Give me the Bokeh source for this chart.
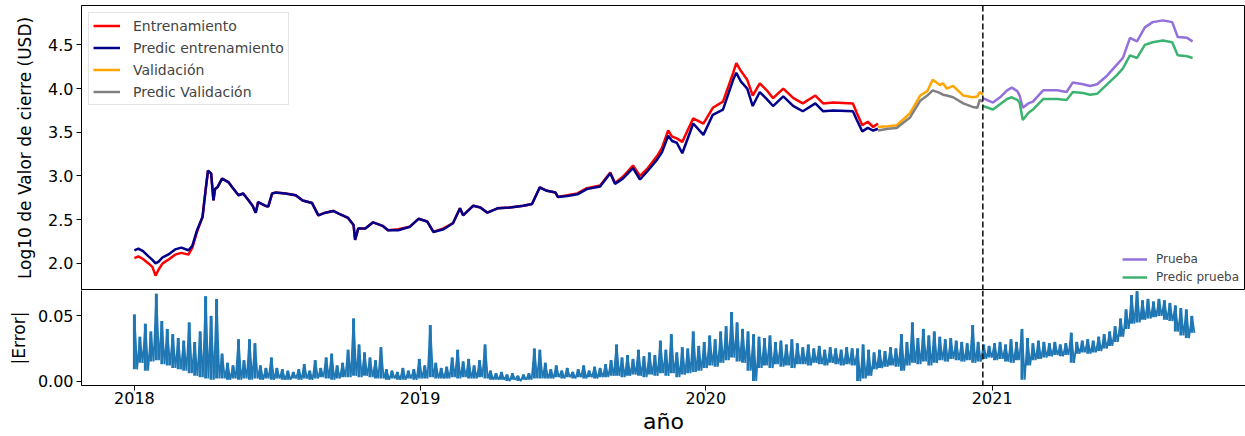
import pandas as pd
from bokeh.plotting import figure
from bokeh.layouts import column
from bokeh.models import (Range1d, FixedTicker, DatetimeTickFormatter, PrintfTickFormatter,
                          Span, Legend, LegendItem)
from bokeh.embed import file_html
from bokeh.resources import INLINE

FONT = "DejaVu Sans"

# ---- training period: actual vs predicted (log10 of close, USD) ----
train_dates = [
    "2018-01-01", "2018-01-06", "2018-01-12", "2018-01-19", "2018-01-24", "2018-01-28",
    "2018-02-01", "2018-02-06", "2018-02-13", "2018-02-22", "2018-03-02", "2018-03-11",
    "2018-03-16", "2018-03-22", "2018-03-29", "2018-04-02", "2018-04-05", "2018-04-09",
    "2018-04-12", "2018-04-14", "2018-04-17", "2018-04-23", "2018-05-01", "2018-05-06",
    "2018-05-14", "2018-05-20", "2018-05-27", "2018-06-01", "2018-06-05", "2018-06-08",
    "2018-06-17", "2018-06-21", "2018-06-26", "2018-06-30", "2018-07-13", "2018-07-26",
    "2018-08-04", "2018-08-16", "2018-08-24", "2018-09-02", "2018-09-12", "2018-09-19",
    "2018-10-01", "2018-10-08", "2018-10-10", "2018-10-14", "2018-10-23", "2018-11-02",
    "2018-11-14", "2018-11-21", "2018-12-04", "2018-12-19", "2018-12-30", "2019-01-10",
    "2019-01-18", "2019-01-31", "2019-02-12", "2019-02-21", "2019-02-25", "2019-03-10",
    "2019-03-19", "2019-03-28", "2019-04-10", "2019-04-26", "2019-05-13", "2019-05-24",
    "2019-06-03", "2019-06-12", "2019-06-23", "2019-06-26", "2019-07-08", "2019-07-21",
    "2019-08-02", "2019-08-19", "2019-09-01", "2019-09-07", "2019-09-17", "2019-09-30",
    "2019-10-09", "2019-10-19", "2019-10-31", "2019-11-06", "2019-11-14", "2019-11-19",
    "2019-11-25", "2019-12-02", "2019-12-16", "2019-12-29", "2020-01-10", "2020-01-23",
    "2020-02-05", "2020-02-09", "2020-02-15", "2020-02-23", "2020-03-01", "2020-03-10",
    "2020-03-19", "2020-03-27", "2020-04-09", "2020-04-22", "2020-05-04", "2020-05-20",
    "2020-05-30", "2020-06-12", "2020-07-07", "2020-07-12", "2020-07-19", "2020-07-26",
    "2020-08-02", "2020-08-08",
]
train_actual = [
    2.06, 2.08, 2.05, 2.00, 1.96, 1.86, 1.93, 2.00, 2.04, 2.10, 2.12, 2.10,
    2.18, 2.36, 2.53, 2.84, 3.06, 3.03, 2.72, 2.85, 2.87, 2.97, 2.93, 2.87,
    2.78, 2.80, 2.72, 2.66, 2.58, 2.70, 2.66, 2.65, 2.80, 2.81, 2.80, 2.78,
    2.72, 2.69, 2.55, 2.58, 2.60, 2.57, 2.52, 2.44, 2.27, 2.40, 2.40, 2.47,
    2.43, 2.38, 2.39, 2.42, 2.51, 2.48, 2.36, 2.40, 2.46, 2.63, 2.55, 2.66,
    2.64, 2.58, 2.63, 2.64, 2.66, 2.68, 2.87, 2.83, 2.81, 2.76, 2.78, 2.80,
    2.86, 2.89, 3.04, 2.92, 2.99, 3.12, 3.00, 3.09, 3.23, 3.32, 3.52, 3.45,
    3.43, 3.39, 3.66, 3.60, 3.78, 3.85, 4.18, 4.29, 4.20, 4.10, 3.92, 4.06,
    3.98, 3.89, 4.00, 3.89, 3.83, 3.92, 3.83, 3.84, 3.83, 3.72, 3.58, 3.62,
    3.56, 3.60,
]
train_pred = [
    2.15, 2.17, 2.14, 2.08, 2.04, 2.00, 2.02, 2.07, 2.10, 2.16, 2.18, 2.15,
    2.20, 2.38, 2.53, 2.84, 3.06, 3.03, 2.72, 2.85, 2.87, 2.97, 2.93, 2.87,
    2.78, 2.80, 2.72, 2.66, 2.58, 2.70, 2.66, 2.65, 2.80, 2.81, 2.80, 2.78,
    2.72, 2.69, 2.55, 2.58, 2.60, 2.57, 2.52, 2.44, 2.27, 2.40, 2.40, 2.47,
    2.43, 2.38, 2.38, 2.42, 2.51, 2.48, 2.36, 2.39, 2.46, 2.63, 2.55, 2.66,
    2.64, 2.58, 2.63, 2.64, 2.66, 2.68, 2.87, 2.83, 2.81, 2.76, 2.77, 2.79,
    2.85, 2.88, 3.03, 2.91, 2.97, 3.09, 2.96, 3.06, 3.19, 3.27, 3.46, 3.40,
    3.38, 3.26, 3.60, 3.47, 3.70, 3.76, 4.10, 4.18, 4.08, 4.00, 3.80, 3.96,
    3.88, 3.80, 3.91, 3.80, 3.74, 3.83, 3.74, 3.75, 3.74, 3.64, 3.51, 3.55,
    3.52, 3.54,
]

# ---- validation period ----
val_dates = [
    "2020-08-08", "2020-08-21", "2020-09-01", "2020-09-11", "2020-09-18", "2020-10-01",
    "2020-10-10", "2020-10-17", "2020-10-26", "2020-10-30", "2020-11-04", "2020-11-12",
    "2020-11-25", "2020-12-07", "2020-12-13", "2020-12-16", "2020-12-20",
]
val_actual = [3.56, 3.57, 3.58, 3.66, 3.72, 3.92, 3.97, 4.10, 4.04, 4.06, 4.00, 4.03,
              3.92, 3.90, 3.91, 3.96, 3.93]
val_pred = [3.52, 3.54, 3.55, 3.62, 3.67, 3.86, 3.92, 3.98, 3.95, 3.93, 3.92, 3.90,
            3.83, 3.79, 3.78, 3.87, 3.85]

# ---- test period ----
test_dates = [
    "2020-12-20", "2021-01-02", "2021-01-11", "2021-01-20", "2021-01-26", "2021-02-02",
    "2021-02-05", "2021-02-09", "2021-02-16", "2021-02-22", "2021-03-07", "2021-03-25",
    "2021-04-06", "2021-04-14", "2021-04-27", "2021-05-06", "2021-05-15", "2021-05-28",
    "2021-06-09", "2021-06-17", "2021-06-26", "2021-07-05", "2021-07-15", "2021-07-25",
    "2021-08-07", "2021-08-19", "2021-08-26", "2021-09-07", "2021-09-14",
]
test_actual = [3.89, 3.84, 3.90, 3.98, 4.01, 3.97, 3.92, 3.78, 3.83, 3.85, 3.98, 3.98,
               3.96, 4.07, 4.05, 4.03, 4.05, 4.15, 4.27, 4.35, 4.58, 4.54, 4.70, 4.76,
               4.78, 4.76, 4.59, 4.58, 4.54]
test_pred = [3.80, 3.76, 3.82, 3.88, 3.90, 3.87, 3.84, 3.64, 3.72, 3.76, 3.88, 3.88,
             3.87, 3.96, 3.95, 3.93, 3.94, 4.05, 4.15, 4.23, 4.38, 4.35, 4.50, 4.53,
             4.55, 4.53, 4.38, 4.37, 4.35]

# ---- absolute error, weekly high / low starting at err_start ----
err_start = "2018-01-01"
err_high = [
    0.051, 0.034, 0.044, 0.038, 0.067, 0.046, 0.040, 0.036, 0.033, 0.031,
    0.045, 0.030, 0.038, 0.065, 0.050, 0.063, 0.021, 0.014, 0.012, 0.032,
    0.016, 0.032, 0.029, 0.012, 0.010, 0.018, 0.010, 0.009, 0.008, 0.007,
    0.009, 0.013, 0.008, 0.016, 0.010, 0.018, 0.021, 0.012, 0.014, 0.024,
    0.048, 0.028, 0.022, 0.018, 0.016, 0.026, 0.009, 0.008, 0.007, 0.010,
    0.008, 0.009, 0.017, 0.012, 0.043, 0.014, 0.010, 0.011, 0.018, 0.024,
    0.015, 0.017, 0.012, 0.016, 0.028, 0.008, 0.006, 0.007, 0.005, 0.006,
    0.004, 0.005, 0.006, 0.025, 0.024, 0.014, 0.009, 0.012, 0.008, 0.010,
    0.007, 0.009, 0.012, 0.008, 0.011, 0.010, 0.013, 0.016, 0.028, 0.018,
    0.020, 0.017, 0.024, 0.019, 0.022, 0.020, 0.031, 0.024, 0.036, 0.022,
    0.026, 0.025, 0.038, 0.027, 0.030, 0.035, 0.032, 0.038, 0.042, 0.053,
    0.045, 0.040, 0.038, 0.036, 0.034, 0.033, 0.035, 0.030, 0.031, 0.028,
    0.032, 0.029, 0.026, 0.028, 0.025, 0.027, 0.024, 0.026, 0.025, 0.024,
    0.026, 0.025, 0.025, 0.028, 0.024, 0.022, 0.024, 0.023, 0.026, 0.025,
    0.036, 0.030, 0.045, 0.033, 0.040, 0.035, 0.038, 0.034, 0.032, 0.033,
    0.031, 0.030, 0.029, 0.043, 0.030, 0.028, 0.027, 0.029, 0.030, 0.028,
    0.032, 0.030, 0.040, 0.033, 0.029, 0.031, 0.030, 0.029, 0.030, 0.028,
    0.029, 0.037, 0.030, 0.031, 0.032, 0.031, 0.034, 0.036, 0.038, 0.042,
    0.048, 0.055, 0.066, 0.069, 0.062, 0.063, 0.061, 0.063, 0.062, 0.060,
    0.058, 0.056, 0.055, 0.050,
]
err_low = [
    0.009, 0.014, 0.008, 0.015, 0.016, 0.013, 0.012, 0.010, 0.009, 0.008,
    0.006, 0.004, 0.003, 0.002, 0.001, 0.002, 0.002, 0.001, 0.002, 0.001,
    0.002, 0.001, 0.002, 0.001, 0.002, 0.001, 0.002, 0.001, 0.001, 0.002,
    0.001, 0.002, 0.001, 0.002, 0.003, 0.002, 0.001, 0.002, 0.003, 0.003,
    0.004, 0.003, 0.004, 0.003, 0.002, 0.002, 0.001, 0.002, 0.001, 0.001,
    0.002, 0.001, 0.002, 0.002, 0.003, 0.002, 0.002, 0.002, 0.003, 0.002,
    0.003, 0.002, 0.002, 0.003, 0.002, 0.001, 0.001, 0.001, 0.000, 0.001,
    0.000, 0.001, 0.001, 0.002, 0.002, 0.002, 0.002, 0.003, 0.002, 0.003,
    0.002, 0.003, 0.002, 0.003, 0.002, 0.003, 0.003, 0.004, 0.004, 0.003,
    0.004, 0.005, 0.004, 0.003, 0.005, 0.004, 0.006, 0.004, 0.006, 0.003,
    0.005, 0.006, 0.007, 0.008, 0.010, 0.012, 0.011, 0.014, 0.016, 0.018,
    0.015, 0.014, 0.008, 0.000, 0.010, 0.012, 0.010, 0.013, 0.011, 0.012,
    0.010, 0.013, 0.013, 0.012, 0.014, 0.013, 0.012, 0.014, 0.013, 0.012,
    0.013, 0.012, 0.000, 0.002, 0.004, 0.009, 0.010, 0.011, 0.012, 0.011,
    0.008, 0.012, 0.014, 0.013, 0.015, 0.012, 0.014, 0.016, 0.015, 0.017,
    0.016, 0.015, 0.016, 0.014, 0.015, 0.017, 0.018, 0.016, 0.017, 0.015,
    0.014, 0.016, 0.001, 0.012, 0.016, 0.017, 0.018, 0.019, 0.020, 0.019,
    0.020, 0.014, 0.021, 0.022, 0.021, 0.022, 0.023, 0.025, 0.027, 0.030,
    0.034, 0.040, 0.044, 0.045, 0.047, 0.048, 0.049, 0.050, 0.047, 0.046,
    0.038, 0.035, 0.033, 0.037,
]

year_ticks = ["2018-01-01", "2019-01-01", "2020-01-01", "2021-01-01"]
price_ticks = [2.0, 2.5, 3.0, 3.5, 4.0, 4.5]
error_ticks = [0.0, 0.05]

ERR_COLOR = "#1f77b4"


def ms(d):
    return pd.Timestamp(d).value / 1e6


def dt(seq):
    return pd.to_datetime(seq)


# x extent: full data span plus 5 % padding on each side
x0, x1 = ms(train_dates[0]), ms(test_dates[-1])
pad = 0.05 * (x1 - x0)
x_range = Range1d(x0 - pad, x1 + pad)

# error trace: one high and one low sample per week
err_week = pd.date_range(err_start, periods=len(err_high), freq="7D")
err_mid = err_week + pd.Timedelta(hours=84)
err_x, err_y = [], []
for d, m, hi, lo in zip(err_week, err_mid, err_high, err_low):
    err_x += [d, m]
    err_y += [hi, lo]

split_date = ms(test_dates[0])


def style(p):
    p.xgrid.visible = False
    p.ygrid.visible = False
    p.outline_line_color = "black"
    p.outline_line_width = 1
    p.background_fill_color = "white"
    p.border_fill_color = "white"
    for ax in p.axis:
        ax.axis_line_color = "black"
        ax.major_tick_line_color = "black"
        ax.major_tick_out = 5
        ax.major_tick_in = 0
        ax.minor_tick_line_color = None
        ax.major_label_text_font = FONT
        ax.major_label_text_font_size = "16px"
        ax.major_label_text_color = "black"
        ax.axis_label_text_font = FONT
        ax.axis_label_text_font_style = "normal"
        ax.axis_label_text_color = "black"
        ax.major_label_standoff = 3


# ---- upper panel: prices ----
p1 = figure(width=1245, height=290, x_range=x_range, y_range=Range1d(1.69, 4.95),
            x_axis_type="datetime", x_axis_location=None,
            output_backend="svg", toolbar_location=None,
            min_border_left=81, min_border_right=0, min_border_top=5, min_border_bottom=0)
style(p1)
p1.yaxis.ticker = FixedTicker(ticks=price_ticks)
p1.yaxis.formatter = PrintfTickFormatter(format="%.1f")
p1.yaxis.axis_label = "Log10 de Valor de cierre (USD)"
p1.yaxis.axis_label_text_font_size = "17px"
p1.yaxis.axis_label_standoff = 10

lw = 2.5
r_tr = p1.line(dt(train_dates), train_actual, color="red", line_width=lw)
r_trp = p1.line(dt(train_dates), train_pred, color="darkblue", line_width=lw)
r_va = p1.line(dt(val_dates), val_actual, color="orange", line_width=lw)
r_vap = p1.line(dt(val_dates), val_pred, color="gray", line_width=lw)
r_te = p1.line(dt(test_dates), test_actual, color="mediumpurple", line_width=lw)
r_tep = p1.line(dt(test_dates), test_pred, color="mediumseagreen", line_width=lw)

p1.add_layout(Span(location=split_date, dimension="height", line_color="#1a1a1a",
                   line_dash="6 3", line_width=1.6))

leg1 = Legend(items=[
    LegendItem(label="Entrenamiento", renderers=[r_tr]),
    LegendItem(label="Predic entrenamiento", renderers=[r_trp]),
    LegendItem(label="Validación", renderers=[r_va]),
    LegendItem(label="Predic Validación", renderers=[r_vap]),
], location="top_left")
leg1.margin = 7
leg1.padding = 4
leg1.spacing = 5
leg1.glyph_width = 27
leg1.glyph_height = 17
leg1.label_height = 17
leg1.label_standoff = 13
leg1.label_text_font = FONT
leg1.label_text_font_size = "14px"
leg1.border_line_color = "#cccccc"
leg1.border_line_width = 1
leg1.background_fill_alpha = 0.8
p1.add_layout(leg1)

leg2 = Legend(items=[
    LegendItem(label="Prueba", renderers=[r_te]),
    LegendItem(label="Predic prueba", renderers=[r_tep]),
], location="bottom_right")
leg2.margin = 6
leg2.padding = 3
leg2.spacing = 4
leg2.glyph_width = 25
leg2.glyph_height = 14
leg2.label_height = 14
leg2.label_standoff = 9
leg2.label_text_font = FONT
leg2.label_text_font_size = "12px"
leg2.border_line_color = None
leg2.background_fill_alpha = 0.8
p1.add_layout(leg2)

# ---- lower panel: absolute error ----
p2 = figure(width=1245, height=146, x_range=x_range, y_range=Range1d(-0.0034, 0.0695),
            x_axis_type="datetime", output_backend="svg", toolbar_location=None,
            min_border_left=81, min_border_right=0, min_border_top=0, min_border_bottom=51)
style(p2)
# the upper panel's frame already draws the shared edge
p2.outline_line_color = None
p2.yaxis.ticker = FixedTicker(ticks=error_ticks)
p2.yaxis.formatter = PrintfTickFormatter(format="%.2f")
p2.yaxis.axis_label = "|Error|"
p2.yaxis.axis_label_text_font_size = "17px"
p2.yaxis.axis_label_standoff = 6
p2.xaxis.ticker = FixedTicker(ticks=[ms(d) for d in year_ticks])
p2.xaxis.formatter = DatetimeTickFormatter(years="%Y", months="%Y", days="%Y", hours="%Y")
p2.xaxis.major_label_standoff = 1
p2.xaxis.axis_label = "año"
p2.xaxis.axis_label_text_font_size = "22px"
p2.xaxis.axis_label_standoff = 2

# weekly spread as vertical strokes, joined by the zig-zag trace
p2.segment(x0=err_week, y0=err_low, x1=err_week, y1=err_high,
           line_color=ERR_COLOR, line_width=3)
p2.line(err_x, err_y, color=ERR_COLOR, line_width=1.8)
p2.add_layout(Span(location=split_date, dimension="height", line_color="#1a1a1a",
                   line_dash="6 3", line_width=1.6))

layout = column(p1, p2, spacing=0)
open("out.html", "w").write(file_html(layout, INLINE))
